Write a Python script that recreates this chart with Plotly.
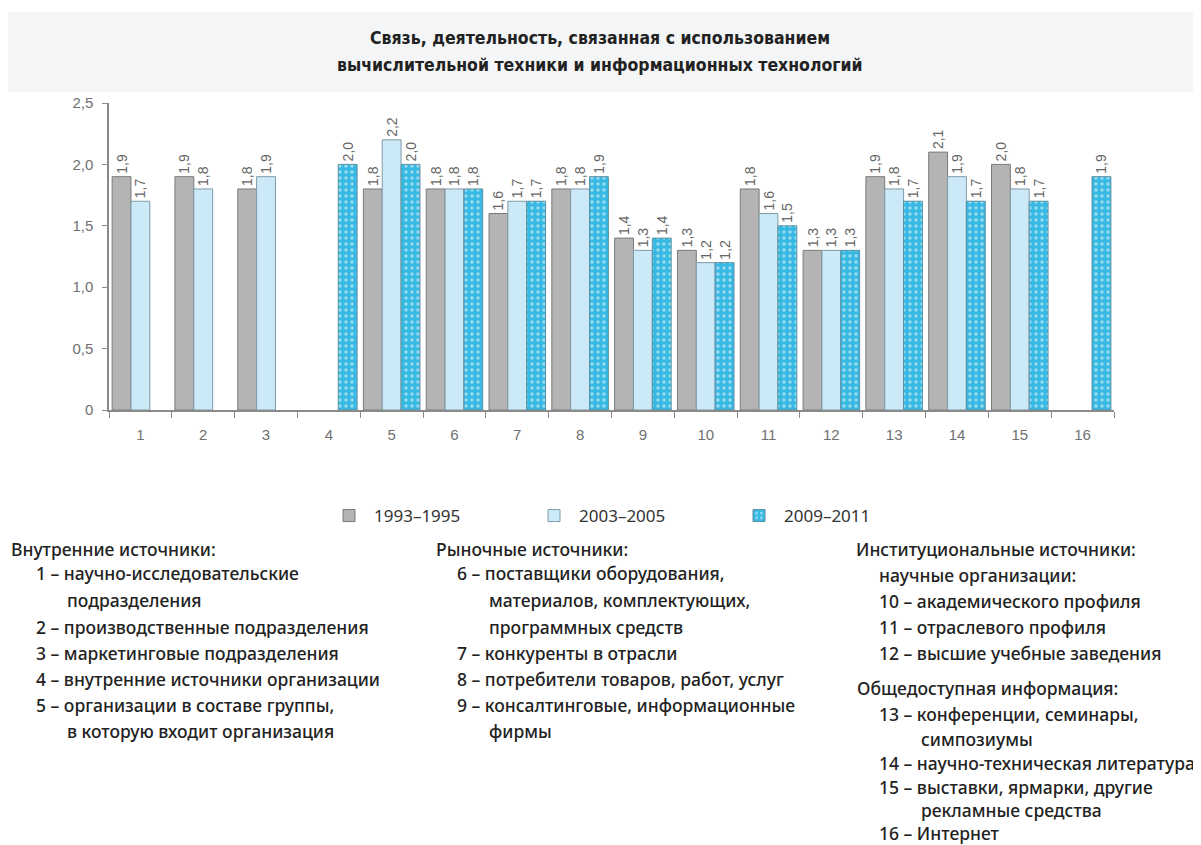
import plotly.graph_objects as go

categories = [str(i) for i in range(1, 17)]
series_names = ["1993–1995", "2003–2005", "2009–2011"]
v_1993 = [1.9, 1.9, 1.8, None, 1.8, 1.8, 1.6, 1.8, 1.4, 1.3, 1.8, 1.3, 1.9, 2.1, 2.0, None]
v_2003 = [1.7, 1.8, 1.9, None, 2.2, 1.8, 1.7, 1.8, 1.3, 1.2, 1.6, 1.3, 1.8, 1.9, 1.8, None]
v_2009 = [None, None, None, 2.0, 2.0, 1.8, 1.7, 1.9, 1.4, 1.2, 1.5, 1.3, 1.7, 1.7, 1.7, 1.9]
y_tickvals = [0, 0.5, 1.0, 1.5, 2.0, 2.5]
y_ticktext = ["0", "0,5", "1,0", "1,5", "2,0", "2,5"]

title_lines = ["Связь, деятельность, связанная с использованием",
               "вычислительной техники и информационных технологий"]

col1 = [
    ("Внутренние источники:", 10, 549),
    ("1 – научно-исследовательские", 35, 573),
    ("подразделения", 66, 600),
    ("2 – производственные подразделения", 35, 627),
    ("3 – маркетинговые подразделения", 35, 653),
    ("4 – внутренние источники организации", 35, 679),
    ("5 – организации в составе группы,", 35, 705),
    ("в которую входит организация", 66, 731),
]
col2 = [
    ("Рыночные источники:", 435, 549),
    ("6 – поставщики оборудования,", 456, 573),
    ("материалов, комплектующих,", 488, 600),
    ("программных средств", 488, 627),
    ("7 – конкуренты в отрасли", 456, 653),
    ("8 – потребители товаров, работ, услуг", 456, 679),
    ("9 – консалтинговые, информационные", 456, 705),
    ("фирмы", 488, 731),
]
col3 = [
    ("Институциональные источники:", 855, 549),
    ("научные организации:", 878, 575),
    ("10 – академического профиля", 878, 601),
    ("11 – отраслевого профиля", 878, 627),
    ("12 – высшие учебные заведения", 878, 653),
    ("Общедоступная информация:", 856, 688),
    ("13 – конференции, семинары,", 878, 714),
    ("симпозиумы", 920, 739),
    ("14 – научно-техническая литература", 878, 763),
    ("15 – выставки, ярмарки, другие", 878, 787),
    ("рекламные средства", 920, 810),
    ("16 – Интернет", 878, 833),
]

OFF = 8  # page offset of the plot div
W, H = 1201, 845
L, R, T, B = 109 - OFF, 1114 - OFF, 103 - OFF, 410 - OFF

def px(x):
    return (x - OFF - L) / (R - L)

def py(y):
    return (B - (y - OFF)) / (B - T)

fig = go.Figure()
styles = [
    dict(color="#b4b4b4", line=dict(color="#7a7a7a", width=1)),
    dict(color="#cbe9f7", line=dict(color="#7f9ba8", width=1)),
    dict(color="#36b9e2", line=dict(color="#5a8fa3", width=1),
         pattern=dict(shape=".", fgcolor="#ffffff", bgcolor="#36b9e2", size=6, solidity=0.25)),
]
for name, vals, st in zip(series_names, [v_1993, v_2003, v_2009], styles):
    fig.add_trace(go.Bar(
        x=categories, y=vals, name=name, marker=st,
        texttemplate="%{y:.1f}", textposition="outside", textangle=-90,
        textfont=dict(family="Liberation Sans, Arial", size=14, color="#666666"),
        constraintext="none", cliponaxis=False,
    ))

annotations = []
for lines in (col1, col2, col3):
    for text, x, y in lines:
        annotations.append(dict(
            text=text, x=px(x), y=py(y), xref="paper", yref="paper",
            xanchor="left", yanchor="middle", showarrow=False, borderpad=0,
            font=dict(family="Noto Sans", size=17.5, color="#222222", weight=500),
        ))
for i, line in enumerate(title_lines):
    annotations.append(dict(
        text="<b>" + line + "</b>", x=px(600), y=py(38 + 27 * i), xref="paper", yref="paper",
        xanchor="center", yanchor="middle", showarrow=False,
        font=dict(family="DejaVu Sans Condensed, Liberation Sans Narrow, Noto Sans", size=17.5, color="#222222"),
    ))

fig.update_layout(
    width=W, height=H,
    margin=dict(l=L, r=W - R, t=T, b=H - B, pad=0),
    paper_bgcolor="white", plot_bgcolor="white",
    barmode="group", bargap=0.1, bargroupgap=0,
    separators=", ",
    showlegend=True,
    legend=dict(orientation="h", x=px(324), y=py(516), xanchor="left", yanchor="middle",
                font=dict(family="Noto Sans", size=17, color="#333333"),
                entrywidth=150, itemwidth=40, bgcolor="rgba(0,0,0,0)"),
    annotations=annotations,
    shapes=[dict(type="rect", xref="paper", yref="paper", x0=px(-20), x1=px(W + 20), y0=py(92), y1=py(12),
                 fillcolor="#f4f5f6", line=dict(width=0), layer="below")],
    xaxis=dict(type="category", showline=True, linecolor="#8a8a8a", linewidth=1.5,
               ticks="outside", tickson="boundaries", ticklen=6, tickcolor="#8a8a8a",
               ticklabelstandoff=10,
               tickfont=dict(family="Liberation Sans, Arial", size=15, color="#707070"),
               showgrid=False, range=[-0.5, 15.5]),
    yaxis=dict(range=[0, 2.5], tickvals=y_tickvals, ticktext=y_ticktext,
               showline=True, linecolor="#8a8a8a", linewidth=1.5,
               ticks="outside", ticklen=5, tickcolor="#8a8a8a",
               ticklabelstandoff=6,
               tickfont=dict(family="Liberation Sans, Arial", size=15, color="#707070"),
               showgrid=False, zeroline=False),
)

fig.write_html("out.html")
